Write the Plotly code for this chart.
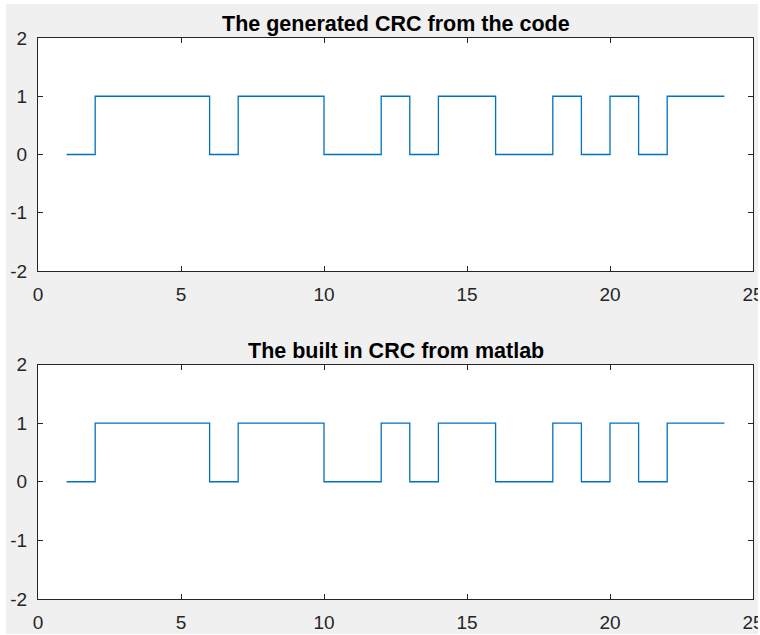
import plotly.graph_objects as go
from plotly.subplots import make_subplots

# Data
x_vals = list(range(1, 25))
crc_generated = [0, 1, 1, 1, 1, 0, 1, 1, 1, 0, 0, 1, 0, 1, 1, 0, 0, 1, 0, 1, 0, 1, 1, 1]
crc_builtin = [0, 1, 1, 1, 1, 0, 1, 1, 1, 0, 0, 1, 0, 1, 1, 0, 0, 1, 0, 1, 0, 1, 1, 1]
titles = ["The generated CRC from the code", "The built in CRC from matlab"]
x_ticks = [0, 5, 10, 15, 20, 25]
y_ticks = [-2, -1, 0, 1, 2]
y_tick_text = ["-2", "-1", "0", "1", "2"]

W, H = 760, 635
L, R, T, B = 38, 7, 38, 36
ph = H - T - B
pw = W - L - R

def ypx(p):
    return 1 - (p - T) / ph

def xpx(p):
    return (p - L) / pw

fig = make_subplots(rows=2, cols=1)
fig.update_layout(
    yaxis=dict(domain=[ypx(271), 1]),
    yaxis2=dict(domain=[0, ypx(364.5)]),
)

line_color = "#0072BD"
for i, ys in enumerate([crc_generated, crc_builtin]):
    fig.add_trace(go.Scatter(x=x_vals, y=ys, mode="lines",
                             line=dict(color=line_color, width=1.3, shape="hv"),
                             showlegend=False, hoverinfo="skip"), row=i + 1, col=1)

axcol = "#262626"
font_fam = "Liberation Sans, Arial, sans-serif"
for i in range(1, 3):
    fig.update_xaxes(range=[0, 25], tickvals=x_ticks, ticks="inside", ticklen=5,
                     tickcolor=axcol, tickwidth=1, showline=True, linecolor=axcol,
                     linewidth=1, mirror="allticks", showgrid=False, zeroline=False,
                     tickfont=dict(family=font_fam, size=19, color=axcol),
                     ticklabelstandoff=6, ticklabeloverflow="allow", automargin=False,
                     row=i, col=1)
    fig.update_yaxes(range=[-2, 2], tickvals=y_ticks, ticktext=y_tick_text,
                     ticks="inside", ticklen=5,
                     tickcolor=axcol, tickwidth=1, showline=True, linecolor=axcol,
                     linewidth=1, mirror="allticks", showgrid=False, zeroline=False,
                     tickfont=dict(family=font_fam, size=19, color=axcol),
                     ticklabelstandoff=6, automargin=False, row=i, col=1)

tops = [1, ypx(364.5)]
for t, ytop in zip(titles, tops):
    fig.add_annotation(text="<b>" + t + "</b>", xref="paper", yref="paper",
                       x=0.5, y=ytop, xanchor="center", yanchor="bottom", yshift=0,
                       showarrow=False, font=dict(family=font_fam, size=21.5, color="#000000"))

# thin white frame around the gray figure background
for x0, x1, y0, y1 in [(0, 6, 0, H), (758, W, 0, H), (0, W, 0, 4), (0, W, 634, H)]:
    fig.add_shape(type="rect", xref="paper", yref="paper", layer="above",
                  x0=xpx(x0), x1=xpx(x1), y0=ypx(y1), y1=ypx(y0),
                  fillcolor="white", line=dict(width=0))

fig.update_layout(width=W, height=H, margin=dict(l=L, r=R, t=T, b=B, autoexpand=False),
                  paper_bgcolor="#f0f0f0", plot_bgcolor="white")

fig.write_html("out.html")
